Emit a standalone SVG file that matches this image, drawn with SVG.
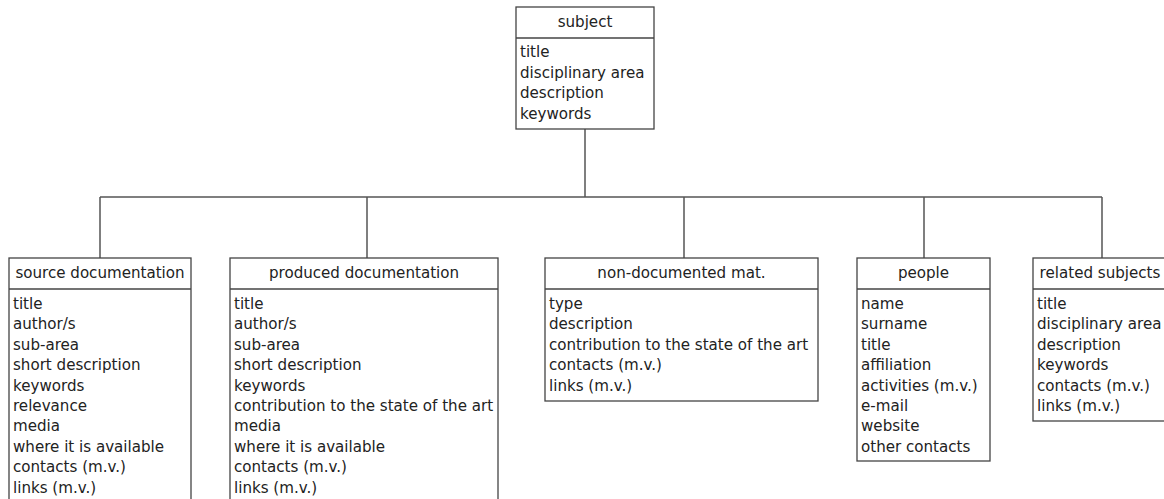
<svg xmlns="http://www.w3.org/2000/svg" width="1164" height="499" viewBox="0 0 1164 499">
<style>
.box{fill:#fff;stroke:#444;stroke-width:1.3}
.div{stroke:#444;stroke-width:1.3}
.conn{fill:none;stroke:#555;stroke-width:1.5}
text{font-family:"DejaVu Sans",Verdana,sans-serif;font-size:15.1px;fill:#222}
.h{text-anchor:middle}
</style>
<rect width="1164" height="499" fill="#fff"/>
<g id="connectors">
<path class="conn" d="M585 129V197M100 197H1102M100 197V258M367 197V258M684 197V258M924 197V258M1102 197V258"/>
</g>
<g id="subject">
<rect class="box" x="516" y="7" width="138" height="122"/>
<line class="div" x1="516" y1="38" x2="654" y2="38"/>
<text class="h" x="585" y="27">subject</text>
<text x="520" y="57">title</text>
<text x="520" y="77.5">disciplinary area</text>
<text x="520" y="98">description</text>
<text x="520" y="118.5">keywords</text>
</g>
<g id="source-documentation">
<rect class="box" x="9" y="258" width="182" height="260"/>
<line class="div" x1="9" y1="289" x2="191" y2="289"/>
<text class="h" x="100" y="278">source documentation</text>
<text x="13" y="309">title</text>
<text x="13" y="329.4">author/s</text>
<text x="13" y="349.8">sub-area</text>
<text x="13" y="370.2">short description</text>
<text x="13" y="390.6">keywords</text>
<text x="13" y="411">relevance</text>
<text x="13" y="431.4">media</text>
<text x="13" y="451.8">where it is available</text>
<text x="13" y="472.2">contacts (m.v.)</text>
<text x="13" y="492.6">links (m.v.)</text>
</g>
<g id="produced-documentation">
<rect class="box" x="230" y="258" width="268" height="260"/>
<line class="div" x1="230" y1="289" x2="498" y2="289"/>
<text class="h" x="364" y="278">produced documentation</text>
<text x="234" y="309">title</text>
<text x="234" y="329.4">author/s</text>
<text x="234" y="349.8">sub-area</text>
<text x="234" y="370.2">short description</text>
<text x="234" y="390.6">keywords</text>
<text x="234" y="411">contribution to the state of the art</text>
<text x="234" y="431.4">media</text>
<text x="234" y="451.8">where it is available</text>
<text x="234" y="472.2">contacts (m.v.)</text>
<text x="234" y="492.6">links (m.v.)</text>
</g>
<g id="non-documented-mat">
<rect class="box" x="545" y="258" width="273" height="143"/>
<line class="div" x1="545" y1="289" x2="818" y2="289"/>
<text class="h" x="681.5" y="278">non-documented mat.</text>
<text x="549" y="309">type</text>
<text x="549" y="329.4">description</text>
<text x="549" y="349.8">contribution to the state of the art</text>
<text x="549" y="370.2">contacts (m.v.)</text>
<text x="549" y="390.6">links (m.v.)</text>
</g>
<g id="people">
<rect class="box" x="857" y="258" width="133" height="203"/>
<line class="div" x1="857" y1="289" x2="990" y2="289"/>
<text class="h" x="923.5" y="278">people</text>
<text x="861" y="309">name</text>
<text x="861" y="329.4">surname</text>
<text x="861" y="349.8">title</text>
<text x="861" y="370.2">affiliation</text>
<text x="861" y="390.6">activities (m.v.)</text>
<text x="861" y="411">e-mail</text>
<text x="861" y="431.4">website</text>
<text x="861" y="451.8">other contacts</text>
</g>
<g id="related-subjects">
<rect class="box" x="1033" y="258" width="137" height="163"/>
<line class="div" x1="1033" y1="289" x2="1170" y2="289"/>
<text class="h" x="1100" y="278">related subjects</text>
<text x="1037" y="309">title</text>
<text x="1037" y="329.4">disciplinary area</text>
<text x="1037" y="349.8">description</text>
<text x="1037" y="370.2">keywords</text>
<text x="1037" y="390.6">contacts (m.v.)</text>
<text x="1037" y="411">links (m.v.)</text>
</g>
</svg>
